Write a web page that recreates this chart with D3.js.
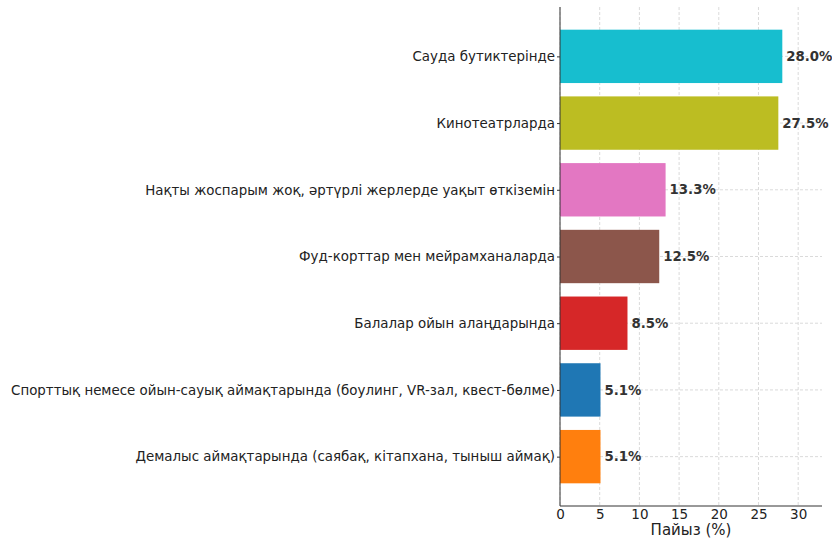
<!DOCTYPE html>
<html>
<head>
<meta charset="utf-8">
<script src="https://cdn.jsdelivr.net/npm/d3@7"></script>
<style>
  body { margin: 0; background: #fff; }
  text { font-family: "DejaVu Sans", sans-serif; }
</style>
</head>
<body>
<div class="chart"></div>
<script>
const categories = [
  "Сауда бутиктерінде",
  "Кинотеатрларда",
  "Нақты жоспарым жоқ, әртүрлі жерлерде уақыт өткіземін",
  "Фуд-корттар мен мейрамханаларда",
  "Балалар ойын алаңдарында",
  "Спорттық немесе ойын-сауық аймақтарында (боулинг, VR-зал, квест-бөлме)",
  "Демалыс аймақтарында (саябақ, кітапхана, тыныш аймақ)"
];
const values = [28.0, 27.5, 13.3, 12.5, 8.5, 5.1, 5.1];
const colors = ["#17becf", "#bcbd22", "#e377c2", "#8c564b", "#d62728", "#1f77b4", "#ff7f0e"];
const xTicks = [0, 5, 10, 15, 20, 25, 30];
const xLabel = "Пайыз (%)";

const w = 832;
const h = 539;
const padL = 560, padR = 822, padT = 7, padB = 506;

const svg = d3.select(".chart")
              .append("svg")
              .attr("width", w)
              .attr("height", h);

const xScale = d3.scaleLinear()
                 .domain([0, 33])
                 .range([padL, padR]);

const yScale = d3.scaleLinear()
                 .domain([-0.74, categories.length - 1 + 0.74])
                 .range([padT, padB]);

const barH = yScale(0.4) - yScale(-0.4);

// grid
svg.append("g")
   .selectAll("line")
   .data(xTicks)
   .enter()
   .append("line")
   .attr("x1", d => xScale(d))
   .attr("x2", d => xScale(d))
   .attr("y1", padT)
   .attr("y2", padB)
   .attr("stroke", "#d0d0d0")
   .attr("stroke-width", 0.8)
   .attr("stroke-dasharray", "3,2");

svg.append("g")
   .selectAll("line")
   .data(categories)
   .enter()
   .append("line")
   .attr("x1", padL)
   .attr("x2", padR)
   .attr("y1", (d, i) => yScale(i))
   .attr("y2", (d, i) => yScale(i))
   .attr("stroke", "#d0d0d0")
   .attr("stroke-width", 0.8)
   .attr("stroke-dasharray", "3,2");

svg.selectAll("rect")
   .data(values)
   .enter()
   .append("rect")
   .attr("x", xScale(0))
   .attr("y", (d, i) => yScale(i) - barH / 2)
   .attr("width", d => xScale(d) - xScale(0))
   .attr("height", barH)
   .attr("fill", (d, i) => colors[i]);

svg.append("g")
   .selectAll("text")
   .data(values)
   .enter()
   .append("text")
   .attr("x", d => xScale(d) + 4)
   .attr("y", (d, i) => yScale(i))
   .attr("dy", "0.35em")
   .attr("font-size", 13.3)
   .attr("font-weight", "bold")
   .attr("fill", "#333")
   .text(d => d.toFixed(1) + "%");

const xAxis = d3.axisBottom(xScale).tickValues(xTicks).tickSize(0).tickPadding(3);
const gx = svg.append("g")
   .attr("transform", "translate(0," + padB + ")")
   .call(xAxis)
   .attr("id", "x-axis");
gx.select(".domain").attr("d", "M" + padL + ",0H" + padR).attr("stroke", "#333");
gx.selectAll("text").attr("font-size", 13.5).attr("fill", "#222").attr("font-family", "DejaVu Sans");

const yAxis = d3.axisLeft(yScale)
                .tickValues(d3.range(categories.length))
                .tickFormat(i => categories[i])
                .tickSize(3)
                .tickPadding(2);
const gy = svg.append("g")
   .attr("transform", "translate(" + padL + ",0)")
   .call(yAxis)
   .attr("id", "y-axis");
gy.select(".domain").attr("d", "M0," + padT + "V" + padB).attr("stroke", "#333");
gy.selectAll("text").attr("font-size", 13.4).attr("fill", "#222").attr("font-family", "DejaVu Sans");
gy.selectAll("line").attr("stroke", "#333");

svg.append("text")
   .attr("x", (padL + padR) / 2)
   .attr("y", 535)
   .attr("text-anchor", "middle")
   .attr("font-size", 15)
   .attr("fill", "#222")
   .text(xLabel);
</script>
</body>
</html>
